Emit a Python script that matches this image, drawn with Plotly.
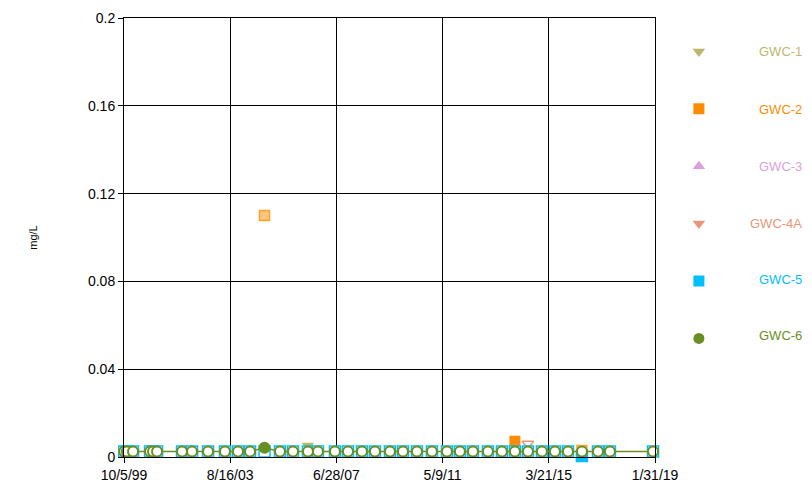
import plotly.graph_objects as go

# sampling events (shared by GWC-5 / GWC-6)
dates = [
    '1999-09-22', '1999-10-08', '1999-11-12', '2000-02-02', '2000-09-15',
    '2000-10-24', '2000-12-17', '2001-11-14', '2002-03-27', '2002-10-26',
    '2003-06-08', '2003-11-28', '2004-05-06', '2004-11-15', '2005-06-08',
    '2005-11-28', '2006-06-15', '2006-10-26', '2007-06-09', '2007-11-29',
    '2008-06-02', '2008-11-22', '2009-06-09', '2009-11-29', '2010-06-03',
    '2010-12-19', '2011-07-07', '2011-12-26', '2012-06-16', '2013-01-01',
    '2013-07-06', '2013-12-26', '2014-06-17', '2014-12-20', '2015-06-11',
    '2015-12-01', '2016-06-04', '2017-01-03', '2017-06-11', '2019-01-05',
]

gwc6_values = [
    0.0025, 0.0025, 0.0025, 0.0025, 0.0025, 0.0025, 0.0025, 0.0025, 0.0025, 0.0025,
    0.0025, 0.0025, 0.0025, 0.0042, 0.0025, 0.0025, 0.0025, 0.0025, 0.0025, 0.0025,
    0.0025, 0.0025, 0.0025, 0.0025, 0.0025, 0.0025, 0.0025, 0.0025, 0.0025, 0.0025,
    0.0025, 0.0025, 0.0025, 0.0025, 0.0025, 0.0025, 0.0025, 0.0025, 0.0025, 0.0025,
]
gwc6_detect = [
    0, 0, 0, 0, 0, 0, 0, 0, 0, 0,
    0, 0, 0, 1, 0, 0, 0, 0, 0, 0,
    0, 0, 0, 0, 0, 0, 0, 0, 0, 0,
    0, 0, 0, 0, 0, 0, 0, 0, 0, 0,
]

gwc5_values = [
    0.0025, 0.0025, 0.0025, 0.0025, 0.0025, 0.0025, 0.0025, 0.0025, 0.0025, 0.0025,
    0.0025, 0.0025, 0.0025, 0.0025, 0.0025, 0.0025, 0.0025, 0.0025, 0.0025, 0.0025,
    0.0025, 0.0025, 0.0025, 0.0025, 0.0025, 0.0025, 0.0025, 0.0025, 0.0025, 0.0025,
    0.0025, 0.0025, 0.0025, 0.0025, 0.0025, 0.0025, 0.0004, 0.0025, 0.0025, 0.0025,
]
gwc5_detect = [
    0, 0, 0, 0, 0, 0, 0, 0, 0, 0,
    0, 0, 0, 0, 0, 0, 0, 0, 0, 0,
    0, 0, 0, 0, 0, 0, 0, 0, 0, 0,
    0, 0, 0, 0, 0, 0, 1, 0, 0, 0,
]

gwc1_dates = ['2006-06-15']
gwc1_values = [0.0052]

gwc2_dates = ['2013-12-26']
gwc2_values = [0.0072]
gwc2_pale_dates = ['2004-11-15', '2016-06-04']
gwc2_pale_values = [0.11, 0.003]

gwc4a_dates = ['2014-06-17']
gwc4a_values = [0.006]

tick_dates = ['1999-10-05', '2003-08-16', '2007-06-28', '2011-05-09', '2015-03-21', '2019-01-31']
tick_text = ['10/5/99', '8/16/03', '6/28/07', '5/9/11', '3/21/15', '1/31/19']

COLORS = {
    'GWC-1': '#BDB76B',
    'GWC-2': '#FF8C00',
    'GWC-3': '#DDA0DD',
    'GWC-4A': '#E9967A',
    'GWC-5': '#00BFFF',
    'GWC-6': '#6B8E23',
}
SYMBOLS = {
    'GWC-1': 'triangle-down',
    'GWC-2': 'square',
    'GWC-3': 'triangle-up',
    'GWC-4A': 'triangle-down',
    'GWC-5': 'square',
    'GWC-6': 'circle',
}

fig = go.Figure()

# data traces
fig.add_trace(go.Scatter(
    x=gwc1_dates, y=gwc1_values, mode='markers', showlegend=False, cliponaxis=False,
    marker=dict(symbol='triangle-down', size=11, color=COLORS['GWC-1']),
))
fig.add_trace(go.Scatter(
    x=gwc2_pale_dates, y=gwc2_pale_values, mode='markers', showlegend=False, cliponaxis=False,
    marker=dict(symbol='square', size=10, color='rgba(255,140,0,0.5)',
                line=dict(color='rgba(255,150,20,0.85)', width=1.5)),
))
fig.add_trace(go.Scatter(
    x=gwc2_dates, y=gwc2_values, mode='markers', showlegend=False, cliponaxis=False,
    marker=dict(symbol='square', size=11, color=COLORS['GWC-2']),
))
fig.add_trace(go.Scatter(
    x=gwc4a_dates, y=gwc4a_values, mode='markers', showlegend=False, cliponaxis=False,
    marker=dict(symbol='triangle-down', size=10, color='white',
                line=dict(color=COLORS['GWC-4A'], width=1.5)),
))
fig.add_trace(go.Scatter(
    x=dates, y=gwc5_values, mode='markers', showlegend=False, cliponaxis=False,
    marker=dict(symbol='square', size=11,
                color=[COLORS['GWC-5'] if d else 'white' for d in gwc5_detect],
                line=dict(color=COLORS['GWC-5'], width=1.5)),
))
fig.add_trace(go.Scatter(
    x=dates, y=gwc6_values, mode='lines+markers', showlegend=False, cliponaxis=False,
    line=dict(color=COLORS['GWC-6'], width=1.5),
    marker=dict(symbol='circle', size=10,
                color=[COLORS['GWC-6'] if d else 'white' for d in gwc6_detect],
                line=dict(color=COLORS['GWC-6'], width=2)),
))

# legend: markers via plotly legend, labels as right-aligned annotations
label_rows = [52, 110, 167, 224, 280, 336]
annotations = []
for (name, col), row in zip(COLORS.items(), label_rows):
    fig.add_trace(go.Scatter(
        x=[None], y=[None], mode='markers', name=' ', legendgroup=name,
        marker=dict(symbol=SYMBOLS[name], size=11, color=col),
    ))
    annotations.append(dict(
        text=name, xref='paper', yref='paper',
        x=(804 - 124) / 531, y=(457.5 - row) / 439.5,
        xanchor='right', yanchor='middle', showarrow=False,
        font=dict(size=13, color=col),
    ))

# the page body adds an 8px offset, so the figure is 8px smaller each way
fig.update_layout(
    width=804, height=479,
    margin=dict(l=116, r=157, t=10, b=29.5, autoexpand=False),
    paper_bgcolor='white', plot_bgcolor='white',
    font=dict(family='Liberation Sans, Arial, sans-serif', size=14, color='black'),
    legend=dict(
        x=1.045, y=0.958, xanchor='left', yanchor='top',
        tracegroupgap=37.5,
        font=dict(size=13),
        bgcolor='rgba(0,0,0,0)',
    ),
    annotations=annotations,
)
fig.update_xaxes(
    type='date', automargin=False,
    range=[tick_dates[0], tick_dates[-1]],
    tickvals=tick_dates, ticktext=tick_text,
    showgrid=True, gridcolor='black', gridwidth=1,
    showline=True, linecolor='black', linewidth=1, mirror=True,
    ticks='outside', ticklen=5, tickcolor='black',
    zeroline=False,
)
fig.update_yaxes(
    range=[0, 0.2], dtick=0.04, tick0=0, automargin=False,
    showgrid=True, gridcolor='black', gridwidth=1,
    showline=True, linecolor='black', linewidth=1, mirror=True,
    ticks='outside', ticklen=5, tickcolor='black',
    zeroline=False,
    title=dict(text='mg/L', font=dict(size=11), standoff=48),
)

fig.write_html("out.html")
